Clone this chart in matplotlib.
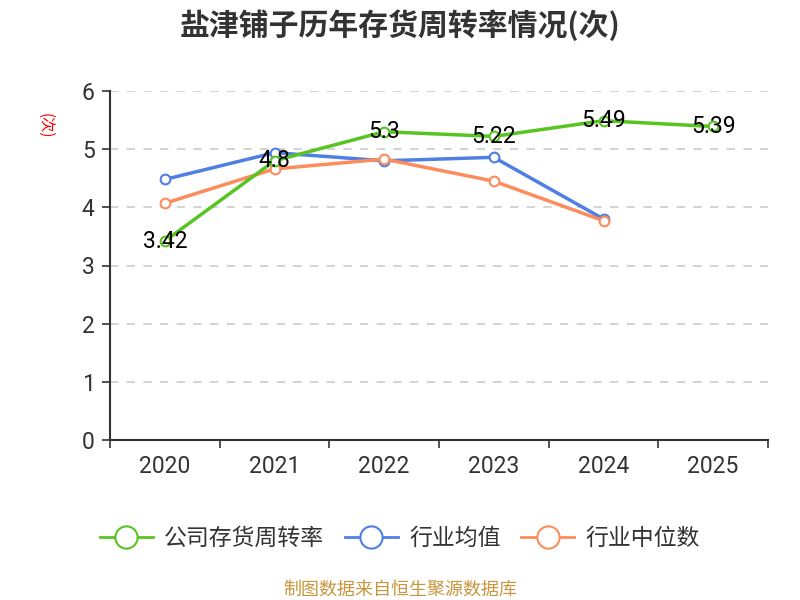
import matplotlib
matplotlib.use("Agg")
import matplotlib.pyplot as plt
from matplotlib.lines import Line2D

plt.rcParams['font.family'] = ['Noto Sans CJK SC', 'DejaVu Sans']

years = ['2020', '2021', '2022', '2023', '2024', '2025']
company = [3.42, 4.8, 5.3, 5.22, 5.49, 5.39]
ind_mean = [4.48, 4.94, 4.80, 4.86, 3.80]
ind_median = [4.07, 4.66, 4.83, 4.45, 3.77]
company_labels = ['3.42', '4.8', '5.3', '5.22', '5.49', '5.39']
series_names = ['公司存货周转率', '行业均值', '行业中位数']
title = '盐津铺子历年存货周转率情况(次)'

c_green = '#58c422'
c_blue = '#4f7fe3'
c_orange = '#fc8c5c'
num_font = ['Roboto', 'DejaVu Sans']

fig = plt.figure(figsize=(8, 6), dpi=100)
ax = fig.add_axes([0.1375, 0.2667, 0.8225, 0.5816])

x = list(range(len(years)))
ax.plot(x[:len(ind_mean)], ind_mean, color=c_blue, lw=2.5, marker='o', ms=7,
        mfc='white', mec=c_blue, mew=1.5, zorder=3)
ax.plot(x[:len(ind_median)], ind_median, color=c_orange, lw=2.5, marker='o', ms=7,
        mfc='white', mec=c_orange, mew=1.5, zorder=3)
ax.plot(x, company, color=c_green, lw=2.5, marker='o', ms=7,
        mfc='white', mec=c_green, mew=1.5, zorder=4)
for xi, v, lab in zip(x, company, company_labels):
    ax.text(xi, v, lab, ha='center', va='center', fontsize=16.5, color='black', zorder=5,
            family=num_font)

ax.set_xlim(-0.5, len(years) - 0.5)
ax.set_ylim(0, 6)
ax.set_yticks(range(0, 7))
ax.set_xticks(x)
ax.set_xticklabels(years)
ax.set_xticks([i - 0.5 for i in range(len(years) + 1)], minor=True)
ax.tick_params(axis='x', which='major', length=0, pad=11, labelsize=16.5, colors='#333333')
ax.tick_params(axis='x', which='minor', length=6, width=1.2, color='#333333')
ax.tick_params(axis='y', length=6, width=1.2, color='#333333', labelsize=16.5, labelcolor='#333333', pad=5)
for lab in ax.get_xticklabels() + ax.get_yticklabels():
    lab.set_family(num_font)

ax.grid(axis='y', color='#cccccc', linestyle=(0, (5, 5)), lw=1.2)
ax.set_axisbelow(True)
for s in ['top', 'right']:
    ax.spines[s].set_visible(False)
ax.spines['left'].set_color('#333333')
ax.spines['bottom'].set_color('#333333')
ax.spines['left'].set_linewidth(1.5)
ax.spines['bottom'].set_linewidth(1.5)

fig.text(0.5, 0.958, title, ha='center', va='center', fontsize=21.5, fontweight='bold', color='#333333')
fig.text(0.057, 0.79, '(次)', rotation=270, ha='center', va='center', fontsize=11, color='red')

handles = [Line2D([0], [0], color=c, lw=2, marker='o', ms=16, mfc='white', mec=c, mew=1.5)
           for c in [c_green, c_blue, c_orange]]
fig.legend(handles, series_names, loc='center', bbox_to_anchor=(0.5, 0.103), ncol=3,
           frameon=False, fontsize=16.5, handlelength=2.3, columnspacing=0.9, handletextpad=0.5,
           labelcolor='#333333')

fig.text(0.5, 0.017, '制图数据来自恒生聚源数据库', ha='center', va='center', fontsize=13, color='#c8963c')

fig.savefig('out.png', dpi=100)
